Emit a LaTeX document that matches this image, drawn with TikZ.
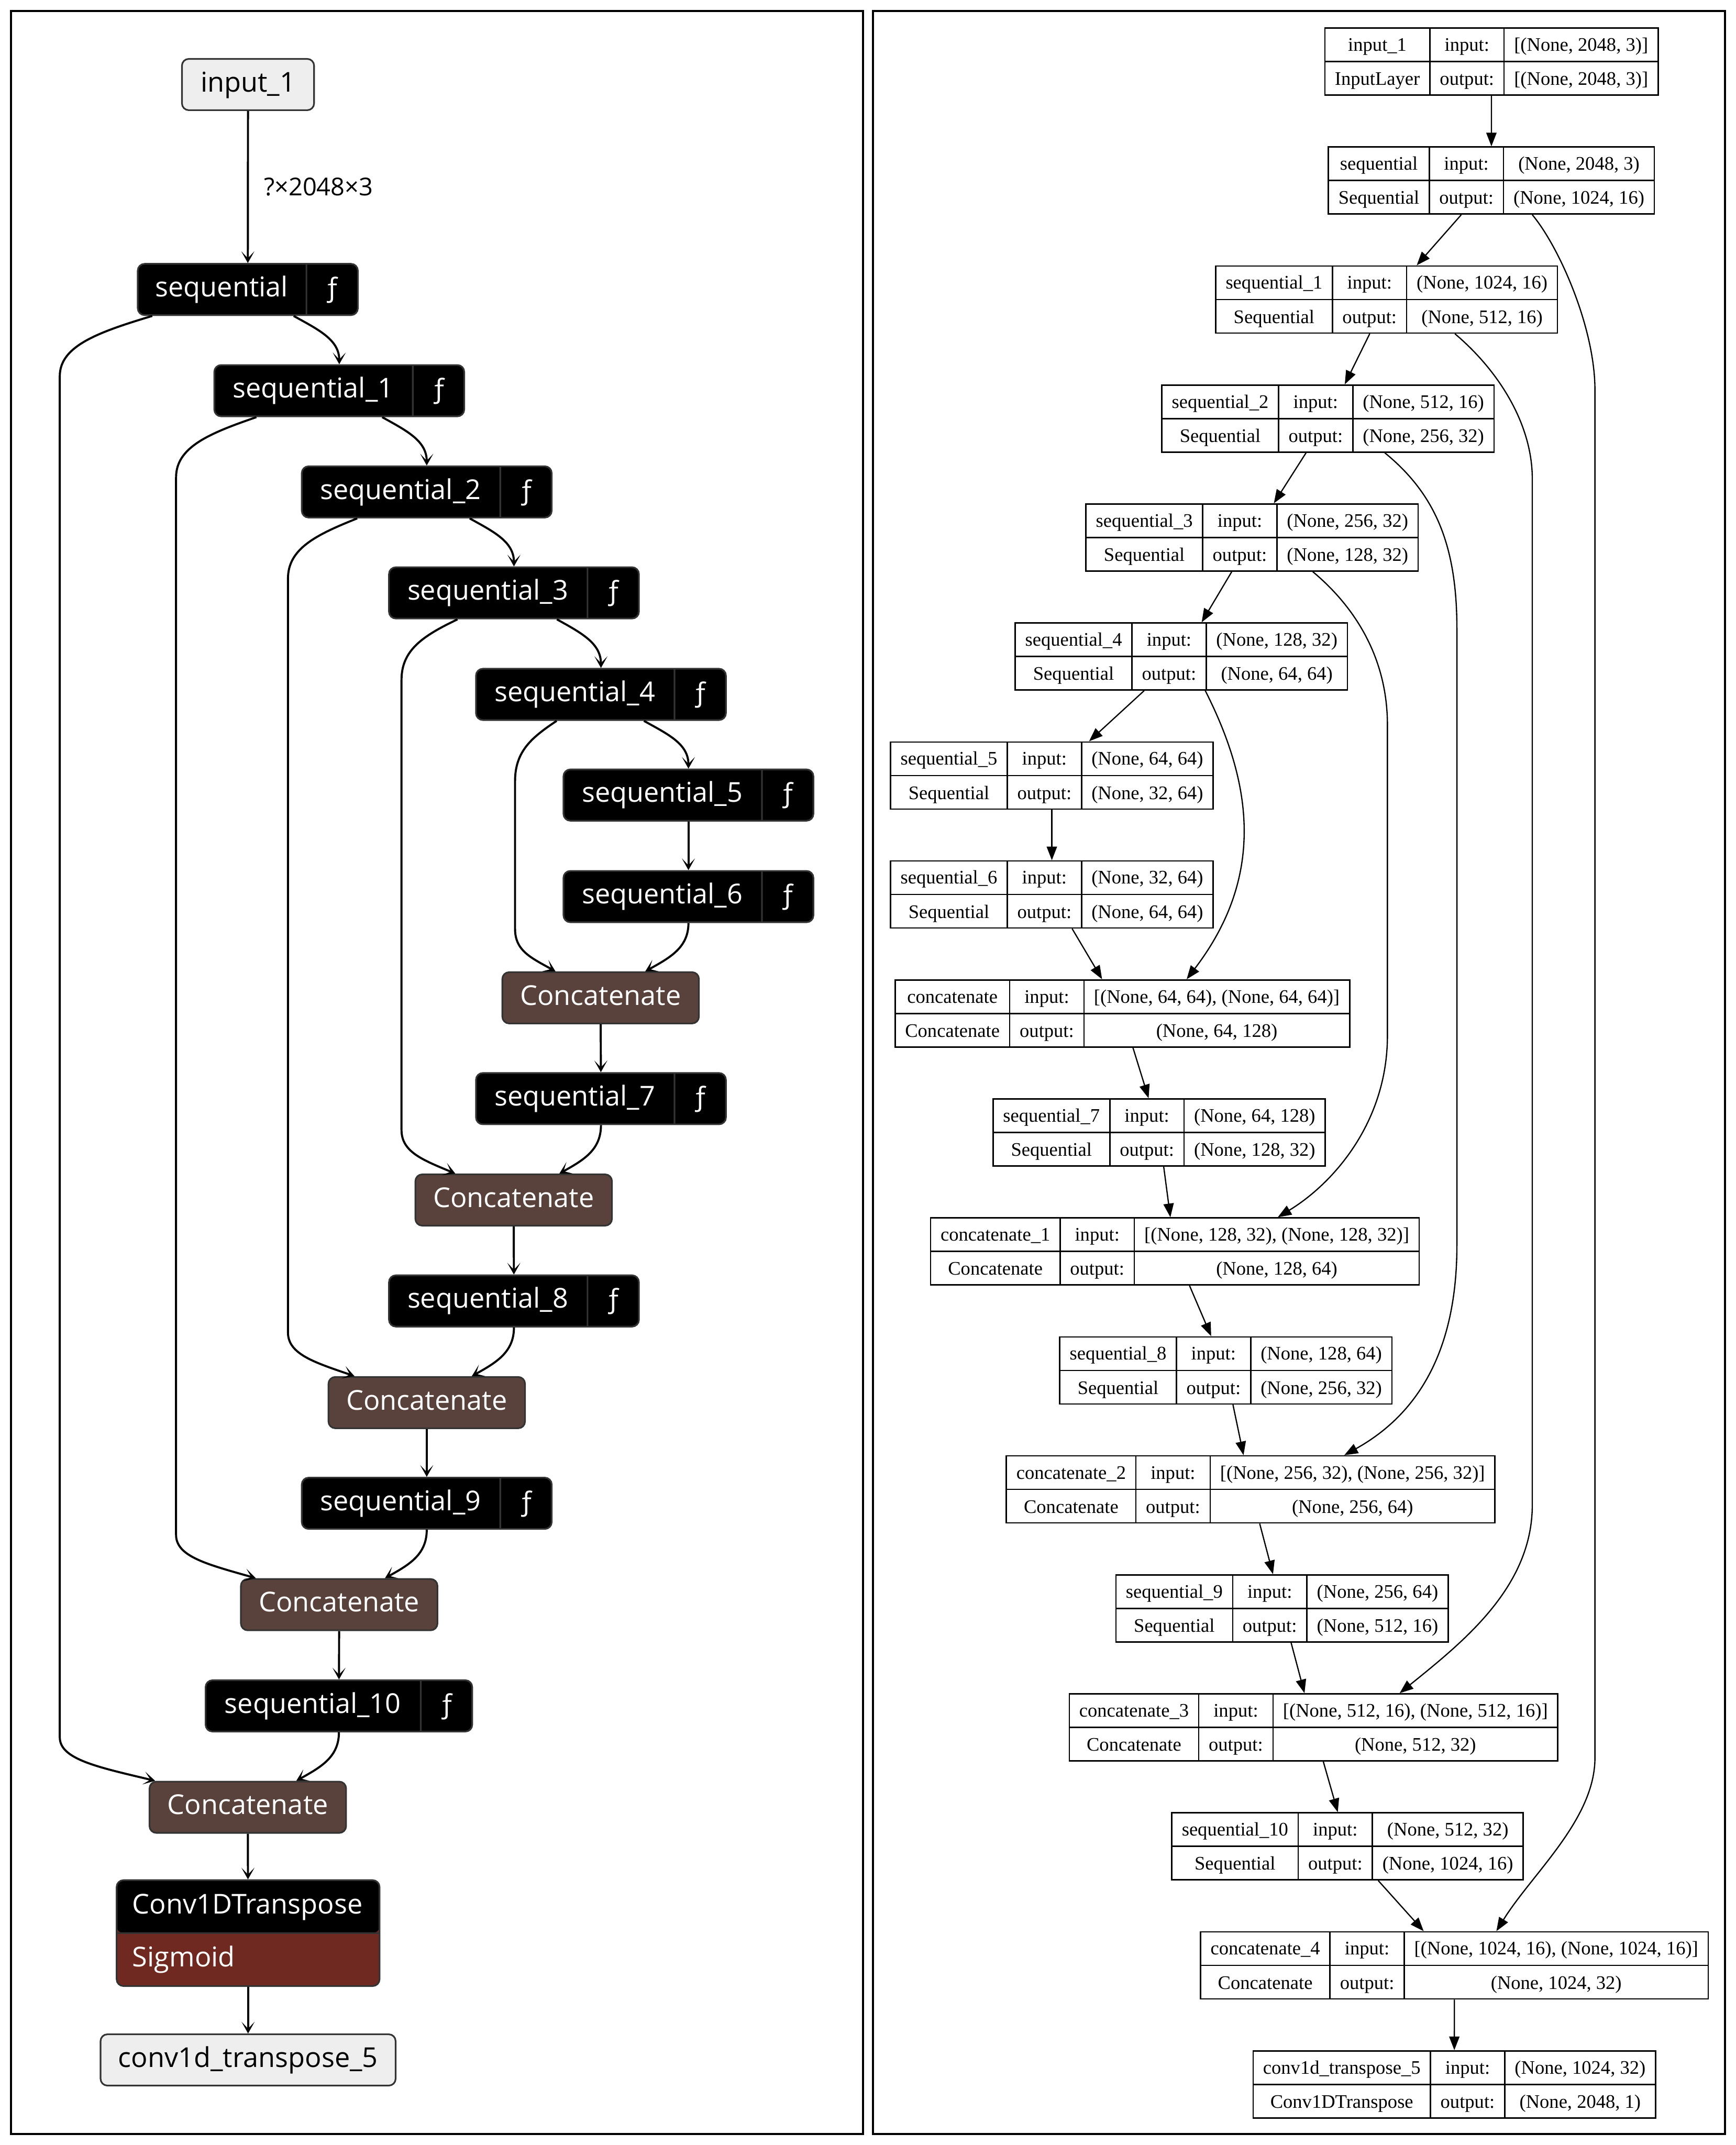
\documentclass[tikz,border=0pt]{standalone}
\usepackage{fontspec}
\setmainfont{Liberation Serif}
\newfontfamily\netronfont{Open Sans}
\usetikzlibrary{arrows.meta, shapes.multipart}
\definecolor{nborder}{RGB}{51,51,51}
\definecolor{ngray}{RGB}{238,238,238}
\definecolor{ntensor}{RGB}{89,66,59}
\definecolor{nactiv}{RGB}{112,41,33}
\setlength{\tabcolsep}{7.3pt}
\setlength{\arrayrulewidth}{1pt}
\newcommand{\lstrut}{\rule[-13.5pt]{0pt}{37.5pt}}
\newcommand{\seqlbl}[2]{\makebox[#2pt]{\lstrut #1}\nodepart{two}\makebox[37pt]{\lstrut ƒ}}
\newcommand{\ktab}[4]{\begin{tabular}{c|c|c}#1 & input: & #3\\ \hline #2 & output: & #4\end{tabular}}

\begin{document}
\begin{tikzpicture}[x=1pt, y=-1pt,
  nbox/.style={rounded corners=5pt, draw=nborder, line width=1.2pt, inner sep=0pt,
    font=\netronfont\fontsize{20}{22}\selectfont},
  iobox/.style={nbox, fill=ngray, text=black},
  catbox/.style={nbox, fill=ntensor, text=white, minimum width=143.7pt},
  seqbox/.style={nbox, fill=black, text=white, rectangle split,
    rectangle split horizontal, rectangle split parts=2},
  nedge/.style={-{Stealth[length=8.5pt, width=9.5pt, inset=5pt]}, line width=1.5pt},
  ktable/.style={draw, line width=1pt, inner sep=0pt, font=\fontsize{14}{24}\selectfont},
  kedge/.style={-{Triangle[length=10pt, width=7.5pt]}, line width=0.9pt}]
  \useasboundingbox (0,0) rectangle (1269,1568);

  % frames
  \draw[line width=1.6pt] (8,8) rectangle (631,1560);
  \draw[line width=1.6pt] (638,8) rectangle (1261,1560);

  % left: netron view
  \node[iobox, minimum width=96.6pt] (inp) at (181.3,61.8) {\lstrut input\_1};
  \node[seqbox] (seq0) at (181.15,211.6) {\seqlbl{sequential}{122.7}};
  \node[seqbox] (seq1) at (248,285.6) {\seqlbl{sequential\_1}{144.5}};
  \node[seqbox] (seq2) at (311.95,359.6) {\seqlbl{sequential\_2}{144.5}};
  \node[seqbox] (seq3) at (375.7,433.4) {\seqlbl{sequential\_3}{144.5}};
  \node[seqbox] (seq4) at (439.3,507.6) {\seqlbl{sequential\_4}{144.5}};
  \node[seqbox] (seq5) at (503.25,581.2) {\seqlbl{sequential\_5}{144.5}};
  \node[seqbox] (seq6) at (503.25,655.4) {\seqlbl{sequential\_6}{144.5}};
  \node[catbox] (cat1) at (439.05,729.4) {\lstrut Concatenate};
  \node[seqbox] (seq7) at (439.3,803.1) {\seqlbl{sequential\_7}{144.5}};
  \node[catbox] (cat2) at (375.5,877.2) {\lstrut Concatenate};
  \node[seqbox] (seq8) at (375.7,951) {\seqlbl{sequential\_8}{144.5}};
  \node[catbox] (cat3) at (311.95,1025.3) {\lstrut Concatenate};
  \node[seqbox] (seq9) at (311.95,1098.9) {\seqlbl{sequential\_9}{144.5}};
  \node[catbox] (cat4) at (247.95,1173) {\lstrut Concatenate};
  \node[seqbox] (seq10) at (247.75,1247) {\seqlbl{sequential\_10}{156.7}};
  \node[catbox] (cat5) at (181.15,1321.1) {\lstrut Concatenate};
  \node[nbox, fill=nactiv, text=white, inner xsep=11.6pt, rectangle split, rectangle split parts=2,
    path picture={\fill[black] (path picture bounding box.north west) rectangle (path picture bounding box.east);}]
    (conv) at (181.35,1413.1)
    {\makebox[169pt][l]{\lstrut Conv1DTranspose}\nodepart{two}\makebox[169pt][l]{\lstrut Sigmoid}};
  \node[iobox, minimum width=215.7pt] (out) at (181.35,1505.8) {\lstrut conv1d\_transpose\_5};

  \draw[nedge] (inp) -- node[midway, right=11pt, inner sep=0pt, text=black,
    font=\netronfont\fontsize{18}{22}\selectfont] {?×2048×3} (seq0);
  \draw[nedge] ([xshift=33.5]seq0.south) .. controls +(18,10) and +(0,-18) .. (seq1.north);
  \draw[nedge] ([xshift=31.4]seq1.south) .. controls +(18,10) and +(0,-18) .. (seq2.north);
  \draw[nedge] ([xshift=31.4]seq2.south) .. controls +(18,10) and +(0,-18) .. (seq3.north);
  \draw[nedge] ([xshift=31.4]seq3.south) .. controls +(18,10) and +(0,-18) .. (seq4.north);
  \draw[nedge] ([xshift=31.4]seq4.south) .. controls +(18,10) and +(0,-18) .. (seq5.north);
  \draw[nedge] (seq5) -- (seq6);
  \draw[nedge] (seq6.south) .. controls +(0,18) and +(18,-10) .. ([xshift=32.65]cat1.north);
  \draw[nedge] (cat1) -- (seq7);
  \draw[nedge] (seq7.south) .. controls +(0,18) and +(18,-10) .. ([xshift=33.4]cat2.north);
  \draw[nedge] (cat2) -- (seq8);
  \draw[nedge] (seq8.south) .. controls +(0,18) and +(18,-10) .. ([xshift=32.95]cat3.north);
  \draw[nedge] (cat3) -- (seq9);
  \draw[nedge] (seq9.south) .. controls +(0,18) and +(18,-10) .. ([xshift=33.45]cat4.north);
  \draw[nedge] (cat4) -- (seq10);
  \draw[nedge] (seq10.south) .. controls +(0,18) and +(18,-10) .. ([xshift=35.45]cat5.north);
  \draw[nedge] (cat5) -- (conv);
  \draw[nedge] (conv) -- (out);
  % skip connections
  \draw[nedge] ([xshift=-69.85]seq0.south) .. controls +(-40,12) and +(0,-22) .. (43.7,275)
    -- (43.7,1270) .. controls +(0,16) and +(-42,-10) .. ([xshift=-67.75]cat5.north);
  \draw[nedge] ([xshift=-60.6]seq1.south) .. controls +(-35,12) and +(0,-22) .. (128.7,349)
    -- (128.7,1122) .. controls +(0,16) and +(-35,-10) .. ([xshift=-60.95]cat4.north);
  \draw[nedge] ([xshift=-50.85]seq2.south) .. controls +(-30,12) and +(0,-22) .. (210.5,423)
    -- (210.5,974) .. controls +(0,16) and +(-29,-10) .. ([xshift=-52.85]cat3.north);
  \draw[nedge] ([xshift=-41.3]seq3.south) .. controls +(-25,12) and +(0,-22) .. (293.5,497)
    -- (293.5,826) .. controls +(0,16) and +(-24,-10) .. ([xshift=-42.7]cat2.north);
  \draw[nedge] ([xshift=-32.4]seq4.south) .. controls +(-18,12) and +(0,-22) .. (376.5,571)
    -- (376.5,679) .. controls +(0,16) and +(-18,-10) .. ([xshift=-33]cat1.north);

  % right: keras plot_model view
  \node[ktable] (rin) at (1090.25,45) {\ktab{input\_1}{InputLayer}{[(None, 2048, 3)]}{[(None, 2048, 3)]}};
  \node[ktable] (rseq0) at (1090.2,131.98) {\ktab{sequential}{Sequential}{(None, 2048, 3)}{(None, 1024, 16)}};
  \node[ktable] (rseq1) at (1013.6,218.96) {\ktab{sequential\_1}{Sequential}{(None, 1024, 16)}{(None, 512, 16)}};
  \node[ktable] (rseq2) at (970.7,305.94) {\ktab{sequential\_2}{Sequential}{(None, 512, 16)}{(None, 256, 32)}};
  \node[ktable] (rseq3) at (915.25,392.92) {\ktab{sequential\_3}{Sequential}{(None, 256, 32)}{(None, 128, 32)}};
  \node[ktable] (rseq4) at (863.55,479.9) {\ktab{sequential\_4}{Sequential}{(None, 128, 32)}{(None, 64, 64)}};
  \node[ktable] (rseq5) at (768.9,566.88) {\ktab{sequential\_5}{Sequential}{(None, 64, 64)}{(None, 32, 64)}};
  \node[ktable] (rseq6) at (768.9,653.86) {\ktab{sequential\_6}{Sequential}{(None, 32, 64)}{(None, 64, 64)}};
  \node[ktable] (rcat0) at (820.45,740.84) {\ktab{concatenate}{Concatenate}{[(None, 64, 64), (None, 64, 64)]}{(None, 64, 128)}};
  \node[ktable] (rseq7) at (847.35,827.82) {\ktab{sequential\_7}{Sequential}{(None, 64, 128)}{(None, 128, 32)}};
  \node[ktable] (rcat1) at (858.85,914.8) {\ktab{concatenate\_1}{Concatenate}{[(None, 128, 32), (None, 128, 32)]}{(None, 128, 64)}};
  \node[ktable] (rseq8) at (896.05,1001.78) {\ktab{sequential\_8}{Sequential}{(None, 128, 64)}{(None, 256, 32)}};
  \node[ktable] (rcat2) at (914.25,1088.76) {\ktab{concatenate\_2}{Concatenate}{[(None, 256, 32), (None, 256, 32)]}{(None, 256, 64)}};
  \node[ktable] (rseq9) at (937.15,1175.74) {\ktab{sequential\_9}{Sequential}{(None, 256, 64)}{(None, 512, 16)}};
  \node[ktable] (rcat3) at (960.2,1262.72) {\ktab{concatenate\_3}{Concatenate}{[(None, 512, 16), (None, 512, 16)]}{(None, 512, 32)}};
  \node[ktable] (rseq10) at (985.05,1349.7) {\ktab{sequential\_10}{Sequential}{(None, 512, 32)}{(None, 1024, 16)}};
  \node[ktable] (rcat4) at (1063.15,1436.68) {\ktab{concatenate\_4}{Concatenate}{[(None, 1024, 16), (None, 1024, 16)]}{(None, 1024, 32)}};
  \node[ktable] (rconv) at (1063.1,1523.66) {\ktab{conv1d\_transpose\_5}{Conv1DTranspose}{(None, 1024, 32)}{(None, 2048, 1)}};

  \draw[kedge] (rin) -- (rseq0);
  \draw[kedge] (rseq0) -- (rseq1);
  \draw[kedge] (rseq1) -- (rseq2);
  \draw[kedge] (rseq2) -- (rseq3);
  \draw[kedge] (rseq3) -- (rseq4);
  \draw[kedge] (rseq4) -- (rseq5);
  \draw[kedge] (rseq5) -- (rseq6);
  \draw[kedge] (rseq6) -- (rcat0);
  \draw[kedge] (rcat0) -- (rseq7);
  \draw[kedge] (rseq7) -- (rcat1);
  \draw[kedge] (rcat1) -- (rseq8);
  \draw[kedge] (rseq8) -- (rcat2);
  \draw[kedge] (rcat2) -- (rseq9);
  \draw[kedge] (rseq9) -- (rcat3);
  \draw[kedge] (rcat3) -- (rseq10);
  \draw[kedge] (rseq10) -- (rcat4);
  \draw[kedge] (rcat4) -- (rconv);
  % long skips
  \draw[kedge] ([xshift=29.9]rseq0.south) .. controls +(20,24) and +(0,-45) .. (1165.9,285)
    -- (1165.9,1285) .. controls +(0,45) and +(26,-42) .. ([xshift=30.7]rcat4.north);
  \draw[kedge] ([xshift=49.9]rseq1.south) .. controls +(32,27) and +(0,-40) .. (1120.1,350)
    -- (1120.1,1100) .. controls +(0,60) and +(47,-38) .. ([xshift=62.9]rcat3.north);
  \draw[kedge] ([xshift=41.5]rseq2.south) .. controls +(38,31) and +(0,-60) .. (1065,460)
    -- (1065,910) .. controls +(0,80) and +(52,-29) .. ([xshift=68.4]rcat2.north);
  \draw[kedge] ([xshift=44.4]rseq3.south) .. controls +(30,25) and +(0,-50) .. (1014.2,530)
    -- (1014.2,757) .. controls +(0,63) and +(41,-25) .. ([xshift=75.2]rcat1.north);
  \draw[kedge] ([xshift=17.5]rseq4.south) .. controls +(34,67) and +(58,-76) .. ([xshift=47]rcat0.north);
\end{tikzpicture}
\end{document}
